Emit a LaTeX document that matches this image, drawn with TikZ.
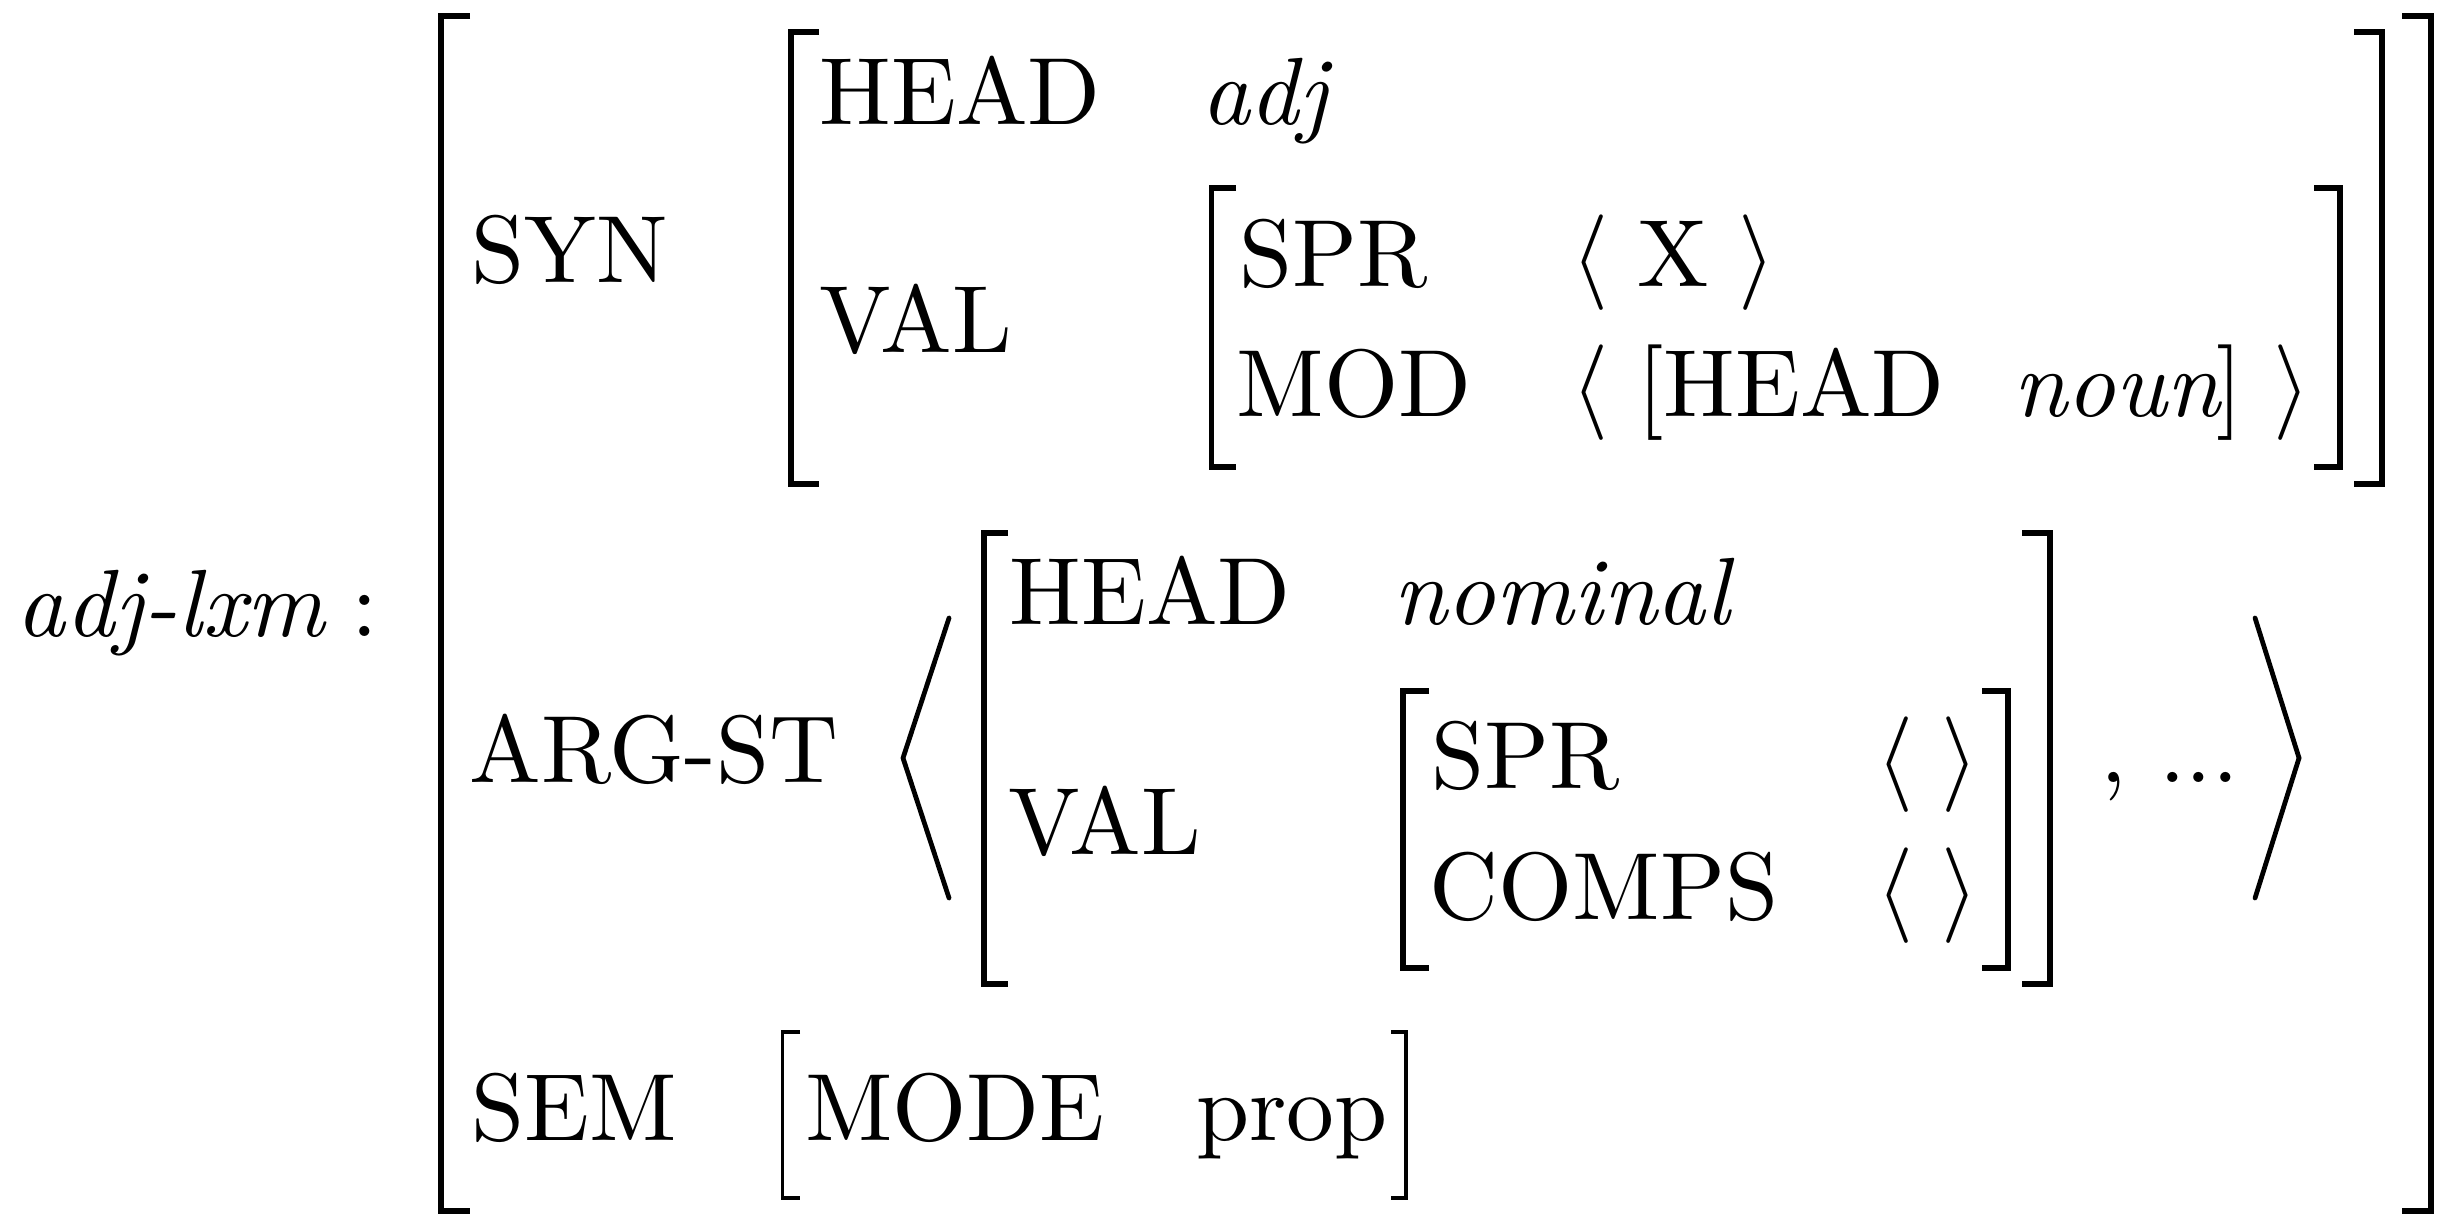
\documentclass[tikz,border=0pt]{standalone}
\usepackage{fontspec}
\begin{document}
\begin{tikzpicture}[x=0.10471pt,y=-0.10471pt,
  lab/.style={anchor=base,inner sep=0pt,outer sep=0pt,font=\fontsize{10}{12}\selectfont},
  bigbr/.style={line width=0.62pt,line join=miter},
  smallbr/.style={line width=0.4pt,line join=miter},
  angl/.style={line width=0.5pt,line cap=round,line join=miter}]
\useasboundingbox (0,0) rectangle (2446,1215);
% type
\node[lab] (typ) at (172,637) {\textit{adj-lxm}};
\node[lab] (colon) at (365,637) {:};
% SYN
\node[lab] (syn) at (570,283) {SYN};
\node[lab] (head1) at (960,125) {HEAD};
\node[lab] (adj) at (1267,125) {\textit{adj}};
\node[lab] (val1) at (916,353) {VAL};
\node[lab] (spr1) at (1334,287) {SPR};
\node[lab] (la1) at (1590,287) {$\langle$};
\node[lab] (x) at (1673,287) {X};
\node[lab] (ra1) at (1757,287) {$\rangle$};
\node[lab] (mod) at (1354,417) {MOD};
\node[lab] (la2) at (1590,417) {$\langle$};
\node[lab] (lb) at (1651,417) {[};
\node[lab] (head2) at (1804,417) {HEAD};
\node[lab] (noun) at (2118,417) {\textit{noun}};
\node[lab] (rb) at (2230,417) {]};
\node[lab] (ra2) at (2292,417) {$\rangle$};
% ARG-ST
\node[lab] (arg) at (654,783) {ARG-ST};
\node[lab] (head3) at (1150,625) {HEAD};
\node[lab] (nominal) at (1564,625) {\textit{nominal}};
\node[lab] (val2) at (1105,854) {VAL};
\node[lab] (spr2) at (1526,788) {SPR};
\node[lab] (la3) at (1895,788) {$\langle$};
\node[lab] (ra3) at (1960,788) {$\rangle$};
\node[lab] (comps) at (1604,919) {COMPS};
\node[lab] (la4) at (1895,919) {$\langle$};
\node[lab] (ra4) at (1960,919) {$\rangle$};
\node[lab] (comma) at (2114,783) {,};
\node[lab] (dots) at (2199,783) {...};
% SEM
\node[lab] (sem) at (574,1140) {SEM};
\node[lab] (mode) at (955,1140) {MODE};
\node[lab] (prop) at (1292,1140) {prop};
% brackets
\draw[bigbr] (470,16) -- (441,16) -- (441,1211) -- (470,1211);
\draw[bigbr] (2402,16) -- (2431,16) -- (2431,1211) -- (2402,1211);
\draw[bigbr] (819,32) -- (791,32) -- (791,484) -- (819,484);
\draw[bigbr] (2354,32) -- (2382,32) -- (2382,484) -- (2354,484);
\draw[bigbr] (1236,188) -- (1211.5,188) -- (1211.5,467) -- (1236,467);
\draw[bigbr] (2314,188) -- (2339.5,188) -- (2339.5,467) -- (2314,467);
\draw[bigbr] (1008,533) -- (984,533) -- (984,984) -- (1008,984);
\draw[bigbr] (2022,533) -- (2050,533) -- (2050,984) -- (2022,984);
\draw[bigbr] (1429,691) -- (1403,691) -- (1403,968) -- (1429,968);
\draw[bigbr] (1982,691) -- (2007.5,691) -- (2007.5,968) -- (1982,968);
\draw[smallbr] (800,1032) -- (782.5,1032) -- (782.5,1198) -- (800,1198);
\draw[smallbr] (1391,1032) -- (1406,1032) -- (1406,1198) -- (1391,1198);
% big angle brackets
\draw[angl] (949,618) -- (903,758) -- (949,898);
\draw[angl] (2255,618) -- (2299,758) -- (2255,898);
\end{tikzpicture}
\end{document}
